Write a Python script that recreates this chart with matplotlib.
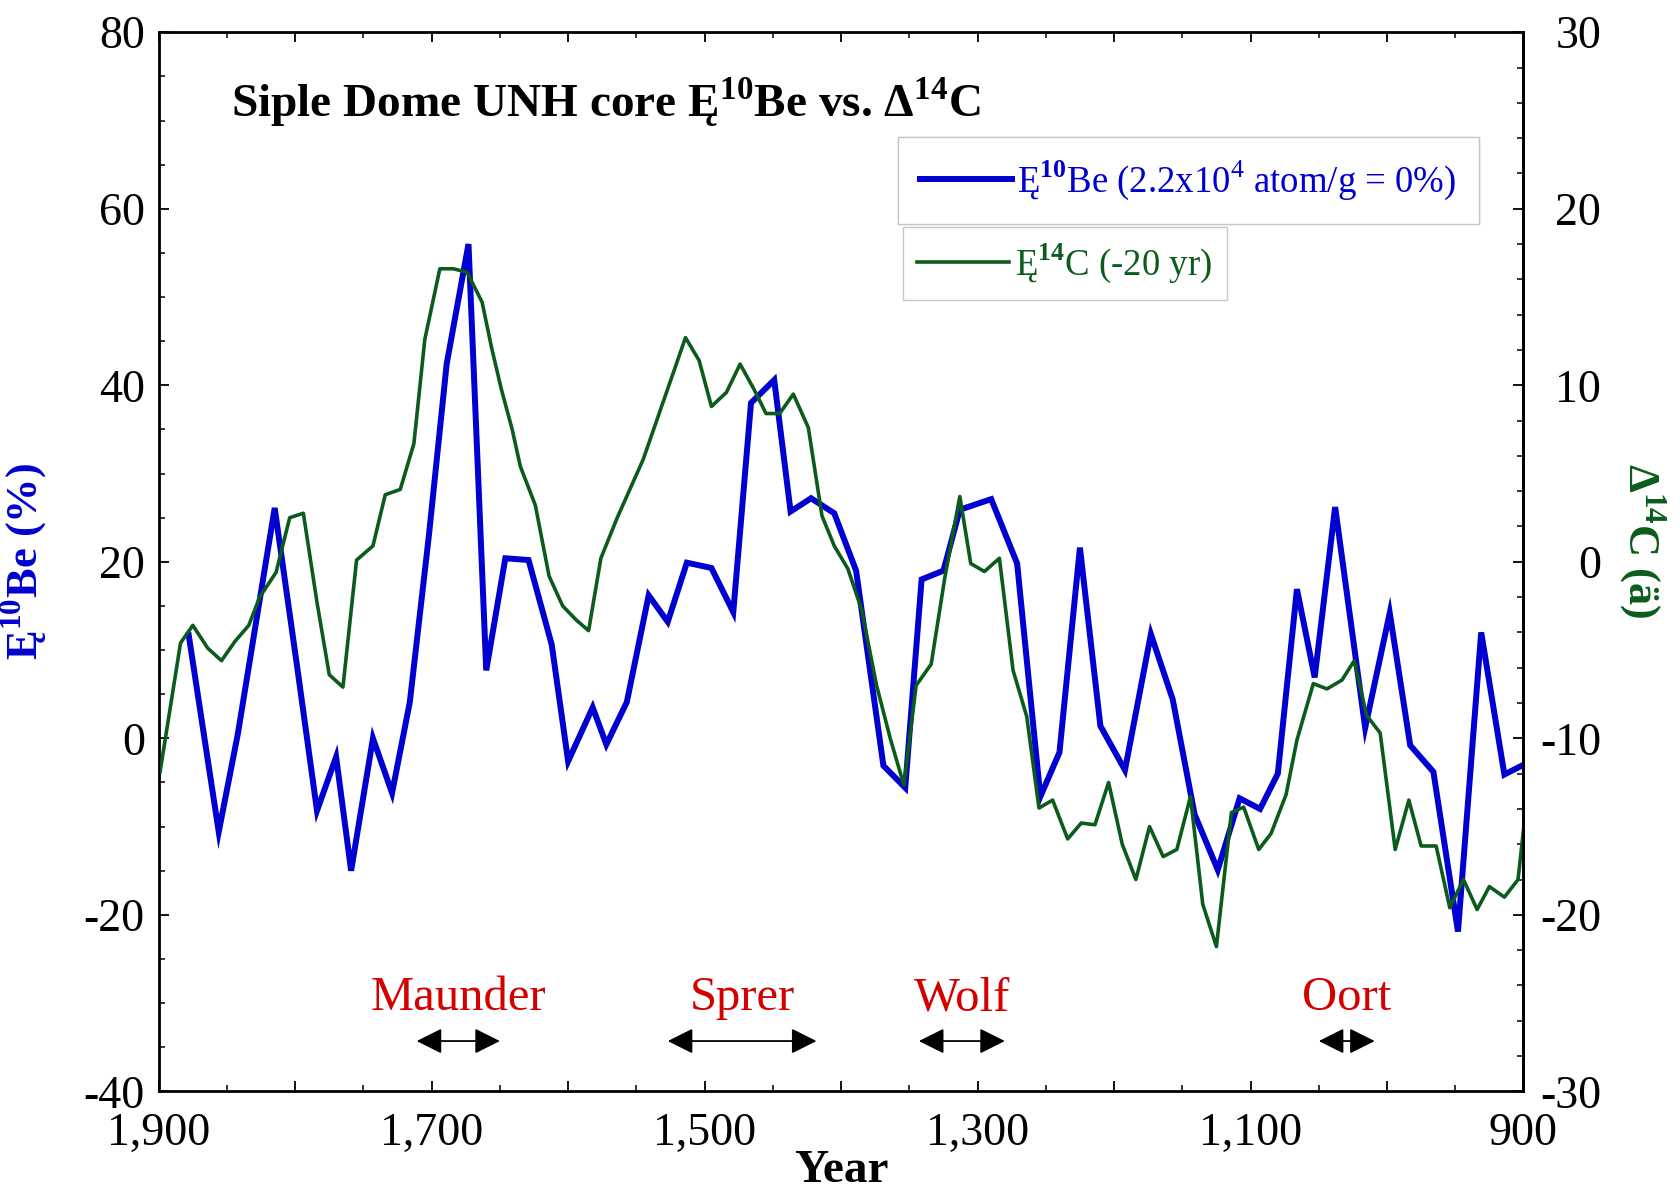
import matplotlib
matplotlib.use("Agg")
import matplotlib.pyplot as plt
from matplotlib.ticker import MultipleLocator, FuncFormatter

# 10Be excess (%) from the Siple Dome UNH core
be_year = [1878, 1856, 1842, 1815, 1798, 1784, 1770, 1759, 1743, 1729,
           1716, 1702, 1689, 1673, 1660, 1646, 1629, 1612, 1600, 1582,
           1572, 1557, 1541, 1527, 1513, 1495, 1479, 1466, 1449, 1437,
           1422, 1405, 1389, 1369, 1353, 1341, 1325, 1313, 1290, 1271,
           1254, 1240, 1225, 1210, 1192, 1173, 1157, 1141, 1124, 1108,
           1093, 1080, 1066, 1053, 1038, 1016, 998, 983, 966, 948,
           931, 914, 900]
be_val = [11.7, -10.6, 0.5, 26.1, 7.5, -8.2, -2.1, -15.0, 0.0, -6.2,
          4.1, 23.0, 42.4, 56.0, 7.7, 20.4, 20.2, 10.6, -2.6, 3.5,
          -0.7, 4.1, 16.2, 13.2, 19.9, 19.3, 14.3, 38.0, 40.6, 25.7,
          27.2, 25.5, 19.0, -3.1, -5.6, 18.0, 19.0, 25.9, 27.1, 19.8,
          -6.6, -1.6, 21.6, 1.4, -3.6, 11.8, 4.4, -8.6, -14.9, -6.8,
          -8.0, -4.0, 16.9, 6.9, 26.2, 1.2, 14.2, -0.8, -3.8, -21.9,
          12.0, -4.1, -3.0]

# Delta 14C (shifted -20 yr)
c14_year = [1899, 1884, 1875, 1864, 1854, 1844, 1834, 1826, 1814, 1804,
            1794, 1784, 1775, 1765, 1755, 1743, 1734, 1723, 1713, 1705,
            1694, 1684, 1674, 1663, 1656, 1649, 1641, 1635, 1624, 1614,
            1604, 1594, 1585, 1576, 1564, 1545, 1514, 1504, 1495, 1484,
            1474, 1464, 1455, 1445, 1435, 1424, 1414, 1405, 1395, 1385,
            1374, 1364, 1354, 1345, 1334, 1324, 1313, 1305, 1295, 1284,
            1274, 1264, 1255, 1245, 1234, 1224, 1214, 1204, 1194, 1184,
            1174, 1164, 1154, 1144, 1135, 1125, 1114, 1105, 1094, 1085,
            1074, 1066, 1054, 1044, 1033, 1024, 1015, 1005, 994, 984,
            975, 964, 954, 944, 934, 925, 914, 904, 900]
c14_val = [-11.9, -4.6, -3.6, -4.9, -5.6, -4.5, -3.6, -2.0, -0.6, 2.5,
           2.75, -2.3, -6.4, -7.1, 0.1, 0.9, 3.8, 4.1, 6.7, 12.6,
           16.6, 16.6, 16.4, 14.7, 12.1, 9.8, 7.5, 5.4, 3.2, -0.8,
           -2.5, -3.3, -3.9, 0.2, 2.5, 5.8, 12.7, 11.4, 8.8, 9.6,
           11.2, 9.8, 8.4, 8.4, 9.5, 7.6, 2.6, 0.9, -0.4, -2.7,
           -7.0, -10.0, -12.65, -7.0, -5.8, -0.9, 3.7, -0.1, -0.55, 0.2,
           -6.15, -8.75, -13.95, -13.5, -15.7, -14.8, -14.9, -12.5, -16.0, -18.0,
           -15.0, -16.7, -16.3, -13.3, -19.4, -21.8, -14.2, -13.9, -16.3, -15.4,
           -13.2, -10.1, -6.9, -7.2, -6.7, -5.6, -8.7, -9.7, -16.3, -13.5,
           -16.1, -16.1, -19.6, -18.0, -19.7, -18.4, -19.0, -18.0, -15.2]

# grand solar minima: name, start, end
minima_name = ["Maunder", "Sprer", "Wolf", "Oort"]
minima_start = [1711, 1527, 1343, 1050]
minima_end = [1650, 1418, 1280, 1009]

BLUE = "#0000d0"
GREEN = "#0b5c1c"
RED = "#d40000"

plt.rcParams["font.family"] = ["Liberation Serif", "DejaVu Serif"]
plt.rcParams["mathtext.fontset"] = "custom"
plt.rcParams["mathtext.rm"] = "Liberation Serif"
plt.rcParams["mathtext.bf"] = "Liberation Serif:bold"
plt.rcParams["axes.unicode_minus"] = False

fig = plt.figure(figsize=(16.81, 11.90), dpi=100)
ax = fig.add_axes([0.0944, 0.0829, 0.8119, 0.8900])
ax2 = ax.twinx()

ax.plot(be_year, be_val, color=BLUE, lw=4.3, solid_joinstyle="miter")
ax2.plot(c14_year, c14_val, color=GREEN, lw=2.6)

ax.set_xlim(1900, 900)
ax.set_ylim(-40, 80)
ax2.set_ylim(-30, 30)

ax.xaxis.set_major_locator(MultipleLocator(100))
ax.xaxis.set_minor_locator(MultipleLocator(50))
ax.xaxis.set_major_formatter(
    FuncFormatter(lambda v, p: f"{int(round(v)):,}" if round(v - 900) % 200 == 0 else ""))
ax.yaxis.set_major_locator(MultipleLocator(20))
ax.yaxis.set_minor_locator(MultipleLocator(5))
ax2.yaxis.set_major_locator(MultipleLocator(10))
ax2.yaxis.set_minor_locator(MultipleLocator(2))

ax.tick_params(axis="x", which="both", direction="in", top=True, labelsize=33, pad=15)
ax.tick_params(axis="y", which="both", direction="in", right=False, labelsize=33, pad=10)
ax2.tick_params(axis="y", which="both", direction="in", labelsize=33, pad=56)
for a in (ax, ax2):
    a.tick_params(which="major", length=7, width=1.3)
    a.tick_params(which="minor", length=4, width=1.1)
for lab in ax2.get_yticklabels():
    lab.set_horizontalalignment("right")
for s in ax.spines.values():
    s.set_linewidth(2.0)
ax2.spines["right"].set_linewidth(2.0)

ax.set_xlabel("Year", fontsize=34, fontweight="bold")
ax.xaxis.set_label_coords(0.5, -0.086)
ax.xaxis.label.set_va("baseline")

ax.set_ylabel(r"Ę$^{\mathbf{10}}$Be (%)", fontsize=32, fontweight="bold", color=BLUE)
ax.yaxis.set_label_coords(-0.080, 0.50)
ax2.set_ylabel(r"$\mathbf{\Delta}^{\mathbf{14}}$C (ä)", fontsize=32, fontweight="bold",
               color=GREEN, rotation=-90)
ax2.yaxis.set_label_coords(1.087, 0.52)
ax2.yaxis.label.set_va("center")

ax.text(0.053, 0.92, r"Siple Dome UNH core Ę$^{\mathbf{10}}$Be vs. $\mathbf{\Delta}^{\mathbf{14}}$C",
        transform=ax.transAxes, fontsize=34, fontweight="bold", va="baseline")

# two stacked legend boxes
h_be, = ax.plot([], [], color=BLUE, lw=4.3)
h_c, = ax.plot([], [], color=GREEN, lw=2.6)
leg1 = fig.legend([h_be], [r"Ę$^{\mathbf{10}}$Be (2.2x10$^{4}$ atom/g = 0%)"],
                  loc="upper left", bbox_to_anchor=(0.534, 0.885), fontsize=26.5,
                  frameon=True, fancybox=False, framealpha=1, edgecolor="#c8c8c8",
                  borderpad=0.6, borderaxespad=0, handlelength=2.5, handletextpad=0.15,
                  labelcolor=BLUE)
leg2 = fig.legend([h_c], [r"Ę$^{\mathbf{14}}$C (-20 yr)"],
                  loc="upper left", bbox_to_anchor=(0.537, 0.809), fontsize=26.5,
                  frameon=True, fancybox=False, framealpha=1, edgecolor="#c8c8c8",
                  borderpad=0.4, borderaxespad=0, handlelength=2.5, handletextpad=0.15,
                  labelcolor=GREEN)
leg1.get_frame().set_linewidth(1.0)
leg2.get_frame().set_linewidth(1.0)
fig.add_artist(leg1)

for name, x0, x1 in zip(minima_name, minima_start, minima_end):
    ax.annotate("", xy=(x1, -34.3), xytext=(x0, -34.3),
                arrowprops=dict(arrowstyle="<|-|>,head_length=0.6,head_width=0.3",
                                color="black", lw=1.3, mutation_scale=26,
                                shrinkA=0, shrinkB=0))
    ax.text((x0 + x1) / 2, -30.8, name, color=RED, fontsize=35,
            ha="center", va="baseline")

fig.savefig("out.png", dpi=100)
